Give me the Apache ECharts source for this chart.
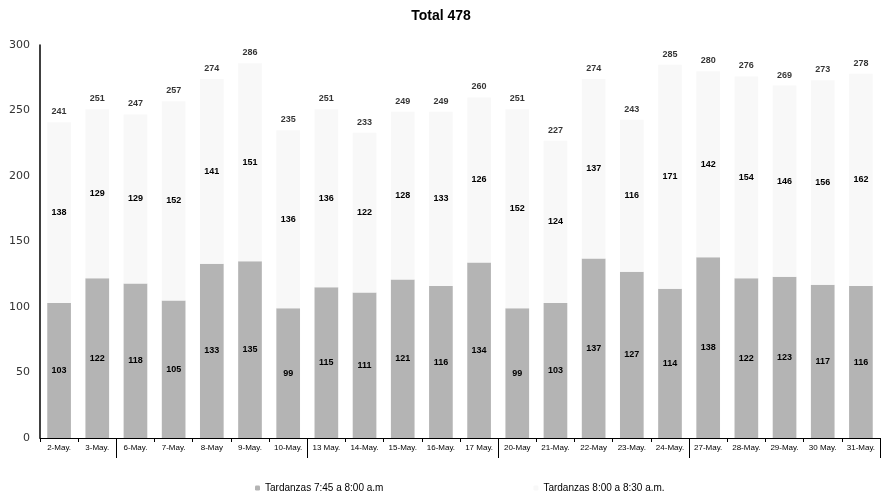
<!DOCTYPE html>
<html><head><meta charset="utf-8">
<script src="https://cdn.jsdelivr.net/npm/echarts@6/dist/echarts.min.js"></script>
<style>html,body{margin:0;padding:0;background:#fff}#c{width:882px;height:501px}</style>
</head><body><div id="c"></div>
<script>
const categories = ["2-May.","3-May.","6-May.","7-May.","8-May","9-May.","10-May.","13 May.","14-May.","15-May.","16-May.","17 May.","20-May","21-May.","22-May","23-May.","24-May.","27-May.","28-May.","29-May.","30 May.","31-May."];
const early = [103,122,118,105,133,135,99,115,111,121,116,134,99,103,137,127,114,138,122,123,117,116];
const late = [138,129,129,152,141,151,136,136,122,128,133,126,152,124,137,116,171,142,154,146,156,162];
const totals = [241,251,247,257,274,286,235,251,233,249,249,260,251,227,274,243,285,280,276,269,273,278];
const weekStarts = [2,7,12,17];
const yTicks = {min:0,max:300,interval:50};

const chart = echarts.init(document.getElementById('c'));
const lbl = {show:true,position:'inside',color:'#000',fontWeight:'bold',fontSize:9,fontFamily:'Liberation Sans'};
chart.setOption({
  animation:false,
  title:{text:'Total 478',left:'center',top:4,textStyle:{fontSize:14,fontWeight:'bold',color:'#000',fontFamily:'Liberation Sans'}},
  grid:{left:40,right:2,top:45,bottom:63},
  legend:{bottom:3,left:250,itemWidth:5,itemHeight:5,itemGap:150,
    textStyle:{fontSize:10,color:'#000',fontFamily:'Liberation Sans'},
    data:['Tardanzas 7:45 a 8:00 a.m','Tardanzas 8:00 a 8:30 a.m.']},
  xAxis:[{type:'category',data:categories,
    axisLine:{lineStyle:{color:'#000',width:1}},
    axisTick:{show:true,length:4,lineStyle:{color:'#000'}},
    axisLabel:{fontSize:8,color:'#000',interval:0,margin:6,fontFamily:'Liberation Sans'}},
   {type:'category',data:categories,position:'bottom',
    axisLine:{show:false},axisLabel:{show:false},
    axisTick:{show:true,length:20,interval:(i)=>weekStarts.includes(i),lineStyle:{color:'#000'}}}],
  yAxis:{type:'value',min:yTicks.min,max:yTicks.max,interval:yTicks.interval,
    splitLine:{show:false},
    axisLine:{show:true,lineStyle:{color:'#000',width:1.5}},axisTick:{show:false},
    axisLabel:{fontSize:11,color:'#333',margin:10,fontFamily:'DejaVu Sans'}},
  series:[
    {name:'Tardanzas 7:45 a 8:00 a.m',type:'bar',stack:'a',data:early,barWidth:'62%',
     itemStyle:{color:'#b4b4b4'},label:lbl},
    {name:'Tardanzas 8:00 a 8:30 a.m.',type:'bar',stack:'a',data:late,
     itemStyle:{color:'#f8f8f8'},label:lbl},
    {name:'Total',type:'scatter',data:totals,symbolSize:0,
     label:{show:true,position:'top',distance:6,color:'#000',fontWeight:'bold',fontSize:9,fontFamily:'Liberation Sans'}}
  ]
});
</script></body></html>
